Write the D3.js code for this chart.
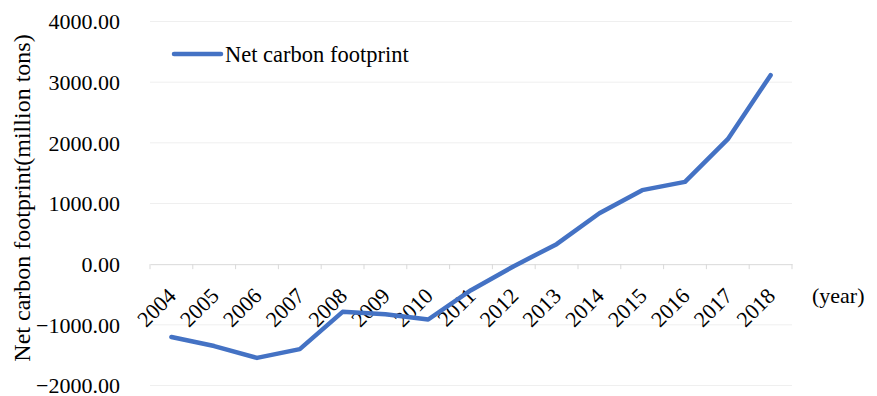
<!DOCTYPE html>
<html>
<head>
<meta charset="utf-8">
<script src="https://cdn.jsdelivr.net/npm/d3@7"></script>
<style>
  body { margin: 0; background: #fff; }
</style>
</head>
<body>
<div id="chart-area"></div>
<script>
/* chart data */
var years = ["2004", "2005", "2006", "2007", "2008", "2009", "2010", "2011",
    "2012", "2013", "2014", "2015", "2016", "2017", "2018"];
var netCarbon = [-1200, -1350, -1545, -1400, -786, -824, -912, -429,
    -33, 330, 840, 1220, 1357, 2060, 3115];
var yTicks = [-2000, -1000, 0, 1000, 2000, 3000, 4000];
var seriesName = "Net carbon footprint";
var yTitle = "Net carbon footprint(million tons)";
var xTitle = "(year)";

var width = 877;
var height = 396;
var plotLeft = 150, plotRight = 792, plotTop = 21.5, plotBottom = 385.5;
var serif = "'Liberation Serif', 'DejaVu Serif', serif";

var svg = d3.select("#chart-area")
    .append("svg")
    .attr("width", width)
    .attr("height", height)
    .attr("font-family", serif)
    .style("font-family", serif);

/* scales */
var x = d3.scaleBand()
    .domain(years)
    .range([plotLeft, plotRight]);

var y = d3.scaleLinear()
    .domain([-2000, 4000])
    .range([plotBottom, plotTop]);

/* horizontal gridlines */
svg.append("g")
    .selectAll("line")
    .data(yTicks.filter(d => d !== 0))
    .enter().append("line")
    .attr("x1", plotLeft)
    .attr("x2", plotRight)
    .attr("y1", d => y(d))
    .attr("y2", d => y(d))
    .attr("stroke", "#efefef")
    .attr("stroke-width", 1);

/* y tick labels */
svg.append("g")
    .selectAll("text")
    .data(yTicks)
    .enter().append("text")
    .attr("x", 120)
    .attr("y", d => y(d))
    .attr("dy", "0.35em")
    .attr("text-anchor", "end")
    .style("font-family", serif)
    .style("font-size", "22px")
    .text(d => d3.format(".2f")(d));

/* zero axis with category ticks */
var xAxis = d3.axisBottom(x)
    .tickSize(0)
    .tickFormat("");
svg.append("g")
    .attr("transform", "translate(0," + y(0) + ")")
    .call(xAxis)
    .call(g => g.select(".domain").attr("stroke", "#d9d9d9"));

svg.append("g")
    .selectAll("line")
    .data(d3.range(years.length + 1))
    .enter().append("line")
    .attr("x1", i => plotLeft + i * x.step())
    .attr("x2", i => plotLeft + i * x.step())
    .attr("y1", y(0))
    .attr("y2", y(0) + 5)
    .attr("stroke", "#d9d9d9");

/* rotated year labels */
svg.append("g")
    .selectAll("text")
    .data(years)
    .enter().append("text")
    .attr("transform", d => "translate(" + (x(d) + x.bandwidth() / 2 + 6) + "," + (y(0) + 33) + ") rotate(-45)")
    .attr("text-anchor", "end")
    .style("font-family", serif)
    .style("font-size", "22px")
    .text(d => d);

/* the line */
var line = d3.line()
    .x((d, i) => x(years[i]) + x.bandwidth() / 2)
    .y(d => y(d));

svg.append("path")
    .datum(netCarbon)
    .attr("d", line)
    .attr("fill", "none")
    .attr("stroke", "#4472C4")
    .attr("stroke-width", 4.5)
    .attr("stroke-linejoin", "round")
    .attr("stroke-linecap", "round");

/* legend */
svg.append("line")
    .attr("x1", 174)
    .attr("x2", 221)
    .attr("y1", 54)
    .attr("y2", 54)
    .attr("stroke", "#4472C4")
    .attr("stroke-width", 4.5)
    .attr("stroke-linecap", "round");

svg.append("text")
    .attr("x", 225)
    .attr("y", 54)
    .attr("dy", "0.35em")
    .style("font-family", serif)
    .style("font-size", "22.5px")
    .text(seriesName);

/* axis titles */
svg.append("text")
    .attr("transform", "translate(22,198) rotate(-90)")
    .attr("text-anchor", "middle")
    .attr("dy", "0.35em")
    .style("font-family", serif)
    .style("font-size", "24px")
    .text(yTitle);

svg.append("text")
    .attr("x", 812)
    .attr("y", 295)
    .attr("dy", "0.35em")
    .style("font-family", serif)
    .style("font-size", "22px")
    .text(xTitle);
</script>
</body>
</html>
